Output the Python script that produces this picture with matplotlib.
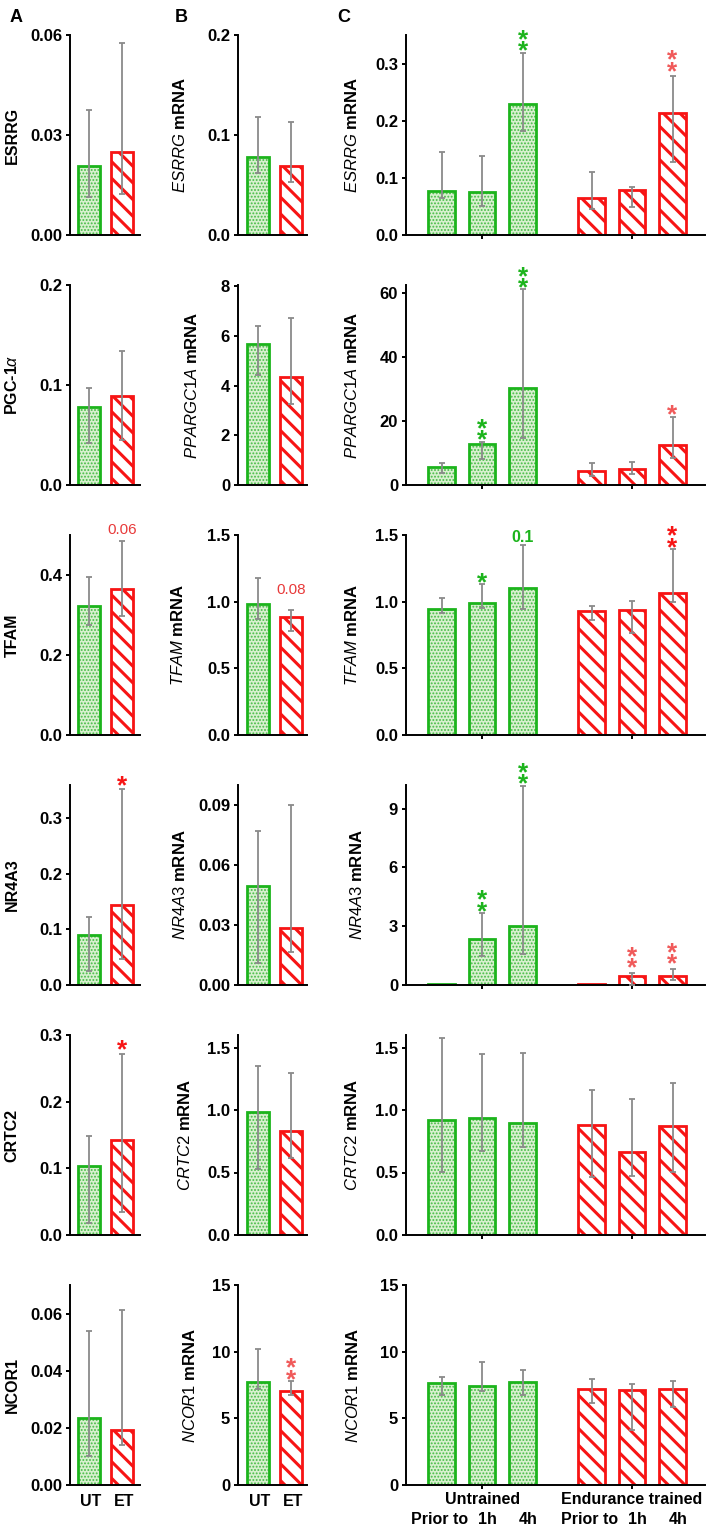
import matplotlib
matplotlib.use('Agg')
import matplotlib.pyplot as plt
import matplotlib.transforms as mtransforms
import numpy as np

plt.rcParams['font.family'] = ['Liberation Sans', 'DejaVu Sans']
plt.rcParams['mathtext.fontset'] = 'custom'
plt.rcParams['mathtext.it'] = 'Liberation Sans:italic'
plt.rcParams['mathtext.bf'] = 'Liberation Sans:bold'
plt.rcParams['mathtext.rm'] = 'Liberation Sans'
plt.rcParams['mathtext.sf'] = 'Liberation Sans'

W, H, DPI = 709, 1531, 100

# ---------------- data ----------------
genes = ['ESRRG', 'PPARGC1A', 'TFAM', 'NR4A3', 'CRTC2', 'NCOR1']
protein_labels = ['ESRRG', r'PGC-1$\alpha$', 'TFAM', 'NR4A3', 'CRTC2', 'NCOR1']
groups_AB = ['UT', 'ET']
groups_C = ['Untrained', 'Endurance trained']
times_C = ['Prior to', '1h', '4h']

# Panel A (protein, UT / ET): value, lower, upper
A_val = [[0.0208, 0.0248], [0.0783, 0.089], [0.3235, 0.366],
         [0.090, 0.144], [0.1035, 0.142], [0.0235, 0.0194]]
A_lo = [[0.0115, 0.0123], [0.0423, 0.045], [0.275, 0.297],
        [0.0248, 0.0465], [0.0185, 0.0345], [0.0101, 0.0141]]
A_hi = [[0.0375, 0.0577], [0.0973, 0.134], [0.396, 0.485],
        [0.123, 0.352], [0.1485, 0.272], [0.0539, 0.0613]]

# Panel B (mRNA, UT / ET)
B_val = [[0.0783, 0.069], [5.66, 4.34], [0.983, 0.883],
         [0.0495, 0.0287], [0.986, 0.832], [7.72, 7.03]]
B_lo = [[0.0617, 0.0533], [4.44, 3.27], [0.871, 0.778],
        [0.0112, 0.0167], [0.532, 0.618], [7.22, 6.73]]
B_hi = [[0.1177, 0.1133], [6.40, 6.73], [1.177, 0.94],
        [0.077, 0.090], [1.353, 1.294], [10.23, 7.78]]

# Panel C (mRNA, UT prior/1h/4h, ET prior/1h/4h)
C_val = [[0.077, 0.0747, 0.229, 0.065, 0.079, 0.213],
         [5.6, 12.9, 30.4, 4.4, 4.9, 12.5],
         [0.943, 0.993, 1.10, 0.933, 0.938, 1.062],
         [0.05, 2.37, 3.02, 0.05, 0.46, 0.46],
         [0.92, 0.934, 0.894, 0.883, 0.668, 0.87],
         [7.65, 7.43, 7.72, 7.22, 7.15, 7.22]]
C_lo = [[0.064, 0.051, 0.182, 0.0455, 0.0495, 0.127],
        [3.9, 8.0, 14.8, 2.8, 3.3, 8.3],
        [0.918, 0.95, 0.945, 0.863, 0.763, 0.995],
        [0.05, 1.48, 1.6, 0.05, 0.02, 0.24],
        [0.508, 0.676, 0.702, 0.468, 0.476, 0.508],
        [6.73, 7.03, 6.73, 6.15, 4.1, 5.85]]
C_hi = [[0.146, 0.138, 0.319, 0.111, 0.084, 0.278],
        [7.0, 13.5, 61.1, 7.0, 7.3, 21.4],
        [1.025, 1.13, 1.423, 0.97, 1.005, 1.393],
        [0.05, 3.65, 10.16, 0.05, 0.61, 0.83],
        [1.58, 1.452, 1.46, 1.16, 1.088, 1.213],
        [8.1, 9.23, 8.6, 7.97, 7.6, 7.78]]

# axis ranges and ticks
ymax_A = [0.06, 0.2, 0.5, 0.36, 0.3, 0.07]
ymax_B = [0.2, 8.05, 1.5, 0.1, 1.6, 15]
ymax_C = [0.35, 62.5, 1.5, 10.2, 1.6, 15]
ticks_A = [['0.00', '0.03', '0.06'], ['0.0', '0.1', '0.2'], ['0.0', '0.2', '0.4'],
           ['0.0', '0.1', '0.2', '0.3'], ['0.0', '0.1', '0.2', '0.3'],
           ['0.00', '0.02', '0.04', '0.06']]
ticks_B = [['0.0', '0.1', '0.2'], ['0', '2', '4', '6', '8'], ['0.0', '0.5', '1.0', '1.5'],
           ['0.00', '0.03', '0.06', '0.09'], ['0.0', '0.5', '1.0', '1.5'],
           ['0', '5', '10', '15']]
ticks_C = [['0.0', '0.1', '0.2', '0.3'], ['0', '20', '40', '60'], ['0.0', '0.5', '1.0', '1.5'],
           ['0', '3', '6', '9'], ['0.0', '0.5', '1.0', '1.5'], ['0', '5', '10', '15']]

# significance marks: (row, panel, bar index, mark, colour key)
marks = [(0, 'C', 2, '**', 'g'), (0, 'C', 5, '**', 'lr'),
         (1, 'C', 1, '**', 'g'), (1, 'C', 2, '**', 'g'), (1, 'C', 5, '*', 'lr'),
         (2, 'A', 1, '0.06', 'rt'), (2, 'B', 1, '0.08', 'rt'),
         (2, 'C', 1, '*', 'g'), (2, 'C', 2, '0.1', 'g'), (2, 'C', 5, '**', 'r'),
         (3, 'A', 1, '*', 'r'), (3, 'C', 1, '**', 'g'), (3, 'C', 2, '**', 'g'),
         (3, 'C', 4, '**', 'lr'), (3, 'C', 5, '**', 'lr'),
         (4, 'A', 1, '*', 'r'),
         (5, 'B', 1, '**', 'lr')]

# ---------------- style ----------------
GREEN = '#1cb41c'
GREEN_FILL = '#d8f0cf'
GREEN_HATCH = '#45bb45'
RED = '#f71414'
RED_LIGHT = '#f05a5a'
ERR = '#8a8a8a'
colmap = {'g': GREEN, 'r': RED, 'lr': RED_LIGHT, 'rt': '#e83a3a'}

STAR_FS = 19
STAR_EM = STAR_FS * DPI / 72.0
STAR_LS = (12 - 0.21 * STAR_EM) / (0.73 * STAR_EM)

fig = plt.figure(figsize=(W / DPI, H / DPI), dpi=DPI)
fig.patch.set_facecolor('white')


def axes_px(left, top, w, h):
    return fig.add_axes([left / W, 1 - (top + h) / H, w / W, h / H])


def draw_bars(ax, x, h, w, kind):
    if kind == 'g':
        face, hc, hatch, hlw, edge = GREEN_FILL, GREEN_HATCH, '.....', 0.9, GREEN
    else:
        face, hc, hatch, hlw, edge = 'white', RED, '\\\\', 2.2, RED
    with plt.rc_context({'hatch.linewidth': hlw}):
        bars = ax.bar(x, h, w, color=face, edgecolor=hc, hatch=hatch,
                      linewidth=0, zorder=2)
    for b in bars:
        if hasattr(b, 'set_hatch_linewidth'):
            b.set_hatch_linewidth(hlw)
    ax.bar(x, h, w, fill=False, edgecolor=edge, linewidth=2.0, zorder=2.5)


def draw_err(ax, x, v, lo, hi):
    v = np.asarray(v, float)
    lo = np.asarray(lo, float)
    hi = np.asarray(hi, float)
    keep = hi > lo
    x = np.asarray(x, float)
    ax.errorbar(x[keep], v[keep], yerr=[v[keep] - lo[keep], hi[keep] - v[keep]],
                fmt='none', ecolor=ERR, elinewidth=1.3, capsize=2.4,
                capthick=1.3, zorder=3)


def style(ax, ymax, labels, xlim, xticks=None):
    ax.set_xlim(*xlim)
    ax.set_ylim(0, ymax)
    for s in ['top', 'right']:
        ax.spines[s].set_visible(False)
    for s in ['left', 'bottom']:
        ax.spines[s].set_linewidth(1.4)
    ticks = [float(t) for t in labels]
    ax.set_yticks(ticks, labels, fontsize=12, fontweight='bold')
    ax.tick_params(axis='y', direction='out', length=3.2, width=1.4, pad=2.5)
    if xticks is None:
        ax.set_xticks([])
    else:
        ax.set_xticks(xticks)
        ax.tick_params(axis='x', direction='out', length=3.2, width=1.4,
                       labelbottom=False)
    ax.set_facecolor('none')


def add_mark(ax, x, top, mark, ck, kind):
    col = colmap[ck]
    if mark.startswith('*'):
        base = 8
        if kind == 'A':
            base = 10
        if kind == 'C' and ck == 'lr' and top < 1:
            base = 11
        # bottom-aligned stack of stars, one per line
        d = base - 0.71 * STAR_EM
        ax.annotate('\n'.join(['*'] * len(mark)), xy=(x, top),
                    xytext=(0, d * 72 / DPI), textcoords='offset points',
                    ha='center', va='bottom', linespacing=STAR_LS,
                    fontsize=STAR_FS, fontweight='bold', color=col, zorder=5)
    else:
        bold = ck == 'g'
        d = {'0.06': 11, '0.08': 20, '0.1': 8}[mark]
        ax.annotate(mark, xy=(x, top), xytext=(0, d * 72 / DPI),
                    textcoords='offset points', ha='center', va='center',
                    fontsize=11.5 if bold else 11,
                    fontweight='bold' if bold else 'normal', color=col, zorder=5)


posAB = np.array([0.0, 1.0])
posC = np.array([0.0, 1.0, 2.0, 3.7, 4.7, 5.7])
kindsC = ['g', 'g', 'g', 'r', 'r', 'r']
labx_B = [180, 192, 178, 180, 185, 190]
labx_C = [352, 352, 352, 357, 352, 353]

axes = {}
for i in range(6):
    top = 35 + 250 * i
    ycen = 1 - (top + 100) / H
    # Panel A
    axA = axes_px(70, top, 70, 200)
    for j in range(2):
        draw_bars(axA, [posAB[j]], [A_val[i][j]], 0.64, 'g' if j == 0 else 'r')
    draw_err(axA, posAB, A_val[i], A_lo[i], A_hi[i])
    style(axA, ymax_A[i], ticks_A[i], (-0.576, 1.545))
    fig.text(12 / W, ycen, protein_labels[i], rotation=90, ha='center',
             va='center', fontsize=11.5, fontweight='bold')
    # Panel B
    axB = axes_px(238, top, 69, 200)
    for j in range(2):
        draw_bars(axB, [posAB[j]], [B_val[i][j]], 0.64, 'g' if j == 0 else 'r')
    draw_err(axB, posAB, B_val[i], B_lo[i], B_hi[i])
    style(axB, ymax_B[i], ticks_B[i], (-0.606, 1.485))
    fig.text(labx_B[i] / W, ycen, r'$\mathit{%s}$ mRNA' % genes[i], rotation=90,
             ha='center', va='center', fontsize=12, fontweight='bold')
    # Panel C
    axC = axes_px(406, top, 299, 200)
    for j in range(6):
        draw_bars(axC, [posC[j]], [C_val[i][j]], 0.65, kindsC[j])
    draw_err(axC, posC, C_val[i], C_lo[i], C_hi[i])
    style(axC, ymax_C[i], ticks_C[i], (-0.877, 6.5), xticks=[1.0, 4.7])
    fig.text(labx_C[i] / W, ycen, r'$\mathit{%s}$ mRNA' % genes[i], rotation=90,
             ha='center', va='center', fontsize=12, fontweight='bold')
    axes[(i, 'A')] = axA
    axes[(i, 'B')] = axB
    axes[(i, 'C')] = axC

# significance marks
for (r, p, b, m, ck) in marks:
    ax = axes[(r, p)]
    if p == 'A':
        x, top = posAB[b], A_hi[r][b]
    elif p == 'B':
        x, top = posAB[b], B_hi[r][b]
    else:
        x, top = posC[b], C_hi[r][b]
    add_mark(ax, x, top, m, ck, p)

# bottom category labels
for p in ['A', 'B']:
    ax = axes[(5, p)]
    tr = mtransforms.blended_transform_factory(ax.transData, ax.transAxes)
    for j, g in enumerate(groups_AB):
        ax.text(posAB[j] + 0.06, -0.08, g, transform=tr, ha='center', va='center',
                fontsize=11.5, fontweight='bold')
axc = axes[(5, 'C')]
tr = mtransforms.blended_transform_factory(axc.transData, axc.transAxes)
for gi, g in enumerate(groups_C):
    axc.text(posC[3 * gi + 1], -0.07, g, transform=tr, ha='center', va='center',
             fontsize=11.5, fontweight='bold')
    for k, t in enumerate(times_C):
        shift = -0.05 if k == 0 else 0.13
        axc.text(posC[3 * gi + k] + shift, -0.175, t,
                 transform=tr, ha='center', va='center', fontsize=11.5,
                 fontweight='bold')

# panel letters
for letter, xpx in [('A', 10), ('B', 175), ('C', 337)]:
    fig.text(xpx / W, 1 - 17 / H, letter, ha='left', va='center', fontsize=13,
             fontweight='bold')

fig.savefig('out.png', dpi=DPI, facecolor='white')
